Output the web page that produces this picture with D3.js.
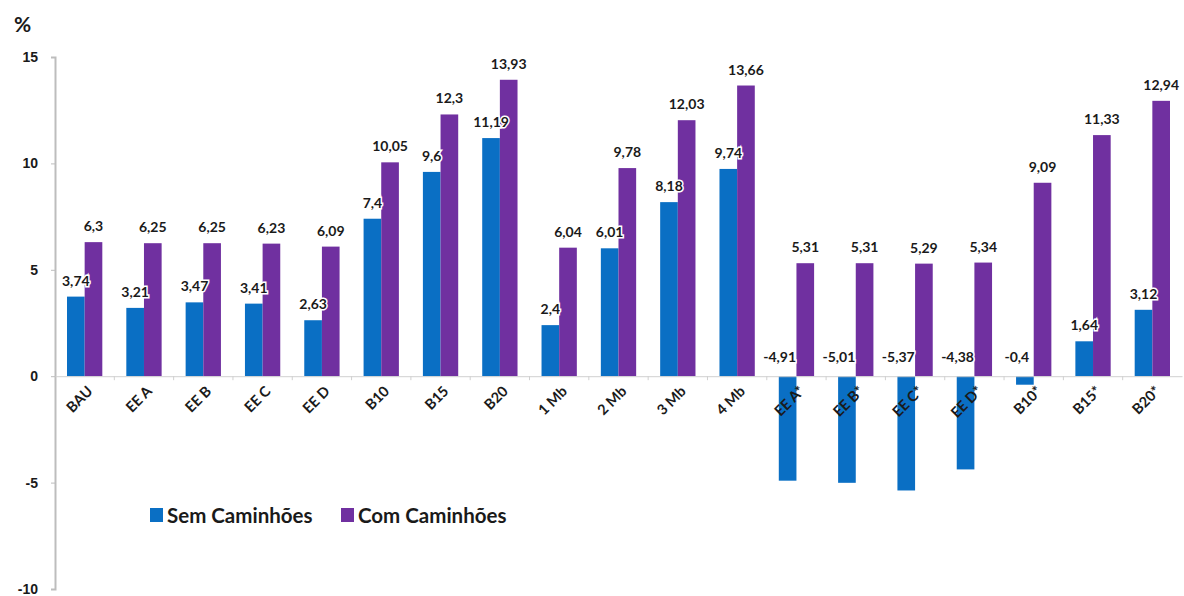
<!DOCTYPE html>
<html>
<head>
<meta charset="utf-8">
<script src="https://cdn.jsdelivr.net/npm/d3@7"></script>
<style>
  body { margin: 0; background: #fff; }
  svg { font-family: Lato, "Open Sans", sans-serif; }
</style>
</head>
<body>
<svg id="chart" width="1184" height="596"></svg>
<script>
// categories and the two series
var categories = ["BAU", "EE A", "EE B", "EE C", "EE D", "B10", "B15", "B20",
    "1 Mb", "2 Mb", "3 Mb", "4 Mb", "EE A*", "EE B*", "EE C*", "EE D*", "B10*", "B15*", "B20*"];
var semCaminhoes = [3.74, 3.21, 3.47, 3.41, 2.63, 7.4, 9.6, 11.19,
    2.4, 6.01, 8.18, 9.74, -4.91, -5.01, -5.37, -4.38, -0.4, 1.64, 3.12];
var comCaminhoes = [6.3, 6.25, 6.25, 6.23, 6.09, 10.05, 12.3, 13.93,
    6.04, 9.78, 12.03, 13.66, 5.31, 5.31, 5.29, 5.34, 9.09, 11.33, 12.94];
var yTicks = [-10, -5, 0, 5, 10, 15];
var seriesNames = ["Sem Caminhões", "Com Caminhões"];
var seriesColors = ["#0A6FC4", "#7030A0"];

var svg = d3.select("#chart");

var x = d3.scaleBand().domain(categories).range([55, 1182]).padding(0);
var xs = d3.scaleBand().domain([0, 1]).range([0, x.bandwidth()]).paddingOuter(0.68).paddingInner(0);
var y = d3.scaleLinear().domain([-10, 15]).range([589, 57]);

var fmt = function (v) { return String(v).replace(".", ","); };

// y axis
var yAxis = svg.append("g").attr("transform", "translate(55,0)")
    .call(d3.axisLeft(y).tickValues(yTicks).tickSize(4).tickFormat(function (d) { return d; }));
yAxis.select(".domain").attr("stroke", "#bdbdbd").attr("stroke-width", 2);
yAxis.selectAll(".tick line").attr("stroke", "#bdbdbd");
yAxis.selectAll(".tick text")
    .attr("x", -17)
    .style("font-size", "14px").style("font-weight", "bold").attr("fill", "#1a1a1a");

svg.append("text").text("%")
    .attr("x", 14).attr("y", 32)
    .style("font-size", "21px").style("font-weight", "bold").attr("fill", "#1a1a1a");

// bars
var data = categories.map(function (c, i) {
    return { cat: c, vals: [semCaminhoes[i], comCaminhoes[i]] };
});

var groups = svg.append("g").selectAll("g").data(data).enter().append("g")
    .attr("transform", function (d) { return "translate(" + x(d.cat) + ",0)"; });

groups.selectAll("rect").data(function (d) { return d.vals; }).enter().append("rect")
    .attr("x", function (v, i) { return xs(i); })
    .attr("width", xs.bandwidth())
    .attr("y", function (v) { return y(Math.max(0, v)); })
    .attr("height", function (v) { return Math.abs(y(v) - y(0)); })
    .attr("fill", function (v, i) { return seriesColors[i]; });

// x axis line and small ticks between groups
var xAxis = svg.append("g").attr("transform", "translate(0," + y(0) + ")")
    .call(d3.axisBottom(x).tickSize(0).tickFormat(""));
xAxis.select(".domain").attr("stroke", "#d0d0d0");
xAxis.selectAll(".tick").remove();
xAxis.selectAll(".sep").data(categories.slice(1)).enter().append("line")
    .attr("x1", function (d) { return x(d); }).attr("x2", function (d) { return x(d); })
    .attr("y1", 0).attr("y2", 4).attr("stroke", "#d0d0d0");

// category labels, rotated
svg.append("g").selectAll("text").data(categories).enter().append("text")
    .text(function (d) { return d; })
    .attr("transform", function (d) {
        return "translate(" + (x(d) + x.bandwidth() / 2 + 9) + "," + (y(0) + 16) + ") rotate(-45)";
    })
    .attr("text-anchor", "end")
    .style("font-size", "14.5px").style("font-weight", "bold").attr("fill", "#1a1a1a");

// value labels
var labels = svg.append("g");
data.forEach(function (d) {
    d.vals.forEach(function (v, i) {
        var cx = x(d.cat) + xs(i) + xs.bandwidth() / 2;
        var ty = v >= 0 ? y(v) - 11 : y(0) - 14;
        if (v < 0) cx -= 8;
        labels.append("text").text(fmt(v))
            .attr("x", cx).attr("y", ty)
            .attr("text-anchor", "middle")
            .attr("stroke", "#fff").attr("stroke-width", 3).attr("paint-order", "stroke")
            .style("font-size", "14px").style("font-weight", "bold").attr("fill", "#1a1a1a");
    });
});

// legend
var legend = svg.append("g").attr("transform", "translate(150,515)");
var legX = [0, 191];
seriesNames.forEach(function (name, i) {
    var g = legend.append("g").attr("transform", "translate(" + legX[i] + ",0)");
    g.append("rect").attr("x", 0).attr("y", -7).attr("width", 13).attr("height", 14)
        .attr("fill", seriesColors[i]);
    g.append("text").text(name).attr("x", 17).attr("y", 8)
        .style("font-size", "20.5px").style("font-weight", "bold").attr("fill", "#1a1a1a");
});
</script>
</body>
</html>
